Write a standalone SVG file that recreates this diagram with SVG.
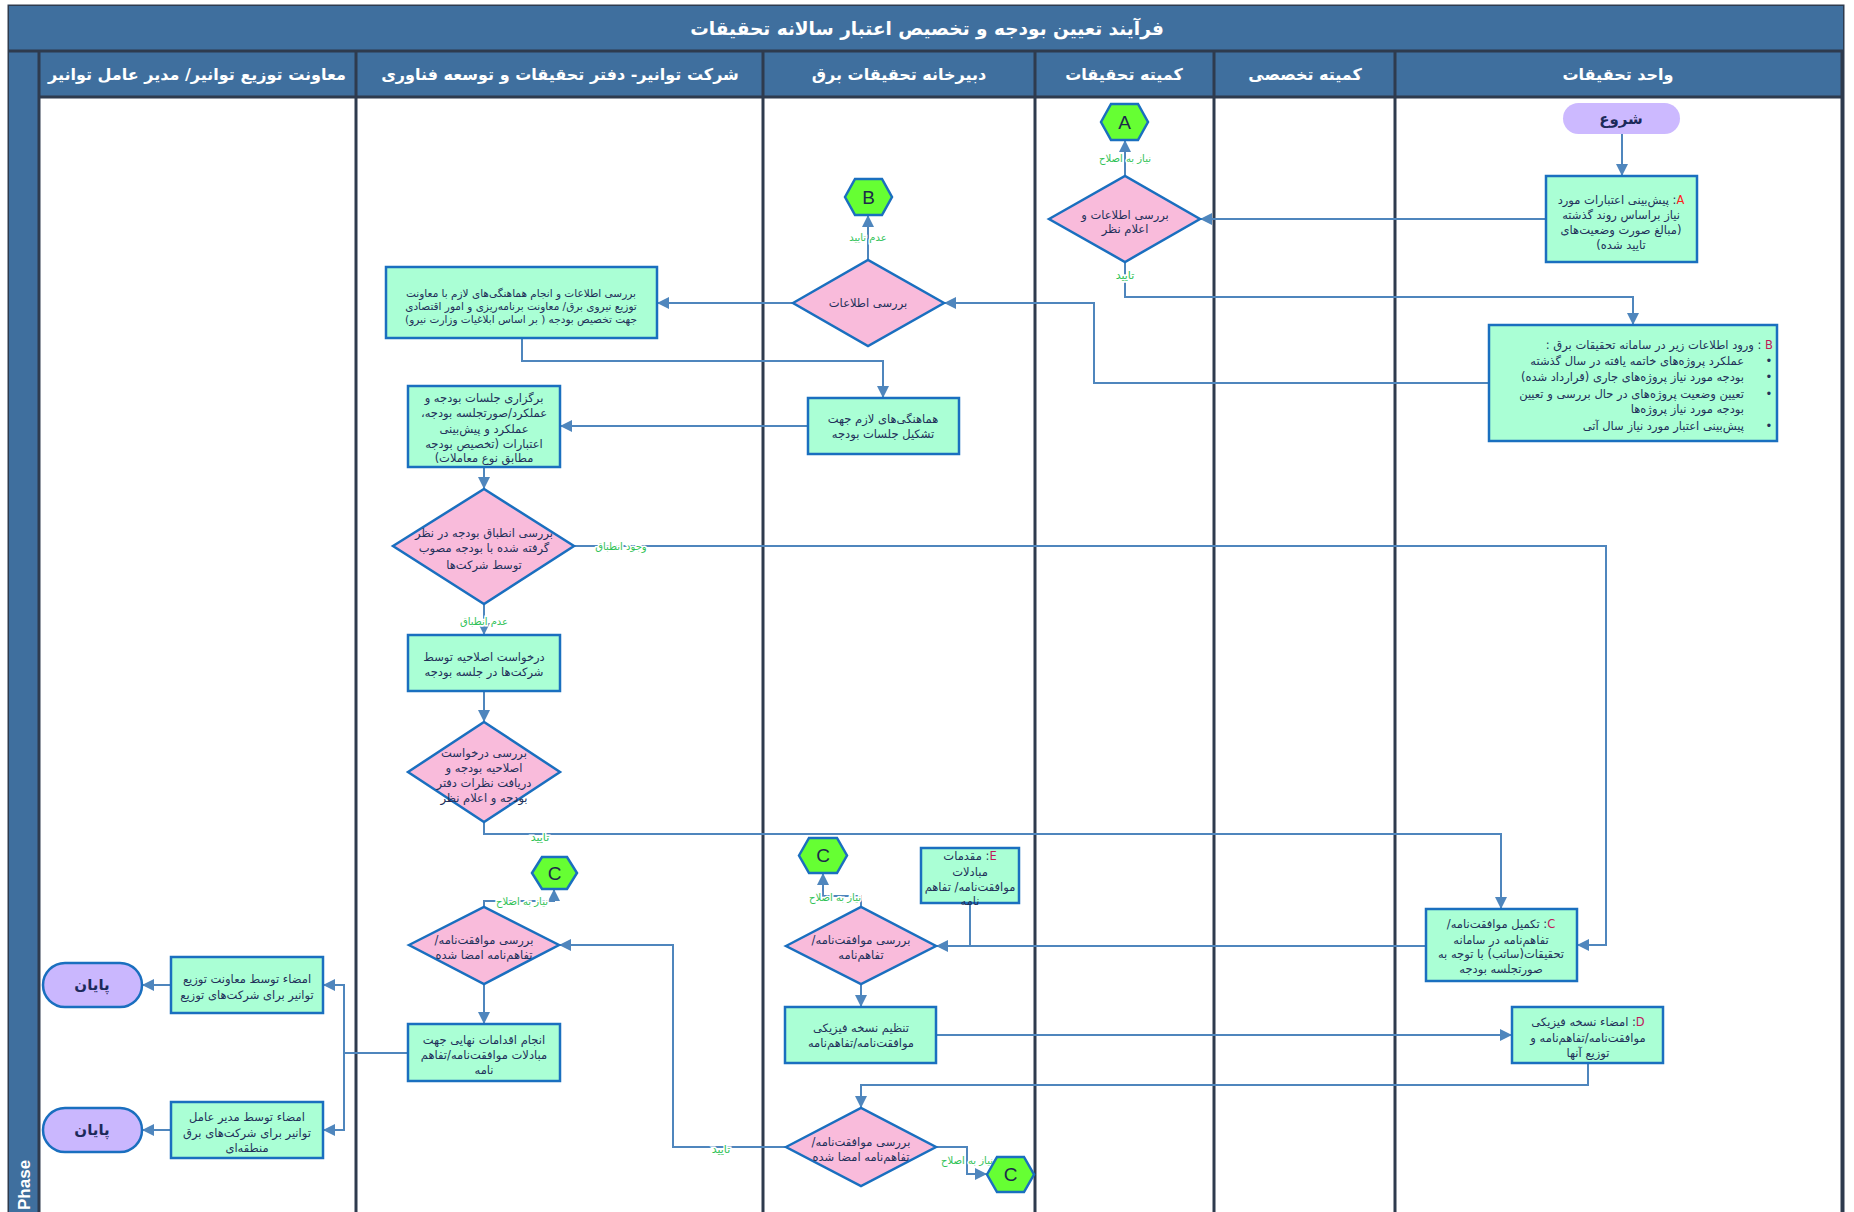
<svg xmlns="http://www.w3.org/2000/svg" width="1854" height="1212" viewBox="0 0 1854 1212">
<defs>
<style>
.hdr{fill:#3f6f9e}
.sep{stroke:#2e3b4e;stroke-width:3;fill:none}
.box{fill:#aaffd5;stroke:#1a6fbf;stroke-width:2.5}
.dec{fill:#f9bbdb;stroke:#1a6fbf;stroke-width:2.5}
.hex{fill:#66ff33;stroke:#1a6fbf;stroke-width:2.5}
.pill{fill:#cab7fe;stroke:#1a6fbf;stroke-width:2.5}
.con{fill:none;stroke:#4f86bd;stroke-width:2}
text{font-family:"DejaVu Sans",sans-serif}
.t{font-size:11.5px;fill:#22305a;direction:rtl;text-anchor:middle}
.ts{font-size:10.5px;fill:#22305a;direction:rtl;text-anchor:middle}
.tr{font-size:11.5px;fill:#22305a;direction:rtl;text-anchor:start}
.h{font-size:16px;font-weight:bold;fill:#fff;direction:rtl;text-anchor:middle}
.lbl{font-size:10px;fill:#2fc256;direction:rtl;text-anchor:middle;paint-order:stroke;stroke:#fff;stroke-width:3px}
.hx{font-family:"Liberation Sans",sans-serif;font-size:19px;fill:#1c2a4a;text-anchor:middle}
.pt{font-size:15px;font-weight:bold;fill:#1c2a5a;direction:rtl;text-anchor:middle}
.k1{fill:#ff2020}
.k2{fill:#c0185a}
</style>
<marker id="ar" viewBox="0 0 10 10" refX="10" refY="5" markerWidth="12" markerHeight="12" markerUnits="userSpaceOnUse" orient="auto"><path d="M0,0 L10,5 L0,10 z" fill="#4f86bd"/></marker>
</defs>

<g id="frame">
<rect x="9" y="6" width="1834" height="1210" fill="#fff" stroke="#2e3b4e" stroke-width="3"/>
<rect class="hdr" x="9" y="6" width="1834" height="45"/>
<rect class="hdr" x="9" y="51" width="1834" height="46"/>
<rect class="hdr" x="9" y="51" width="30" height="1165"/>
<line class="sep" x1="9" y1="51" x2="1843" y2="51"/>
<line class="sep" x1="39" y1="97" x2="1843" y2="97"/>
<line class="sep" x1="39" y1="51" x2="39" y2="1212"/>
<line class="sep" x1="356" y1="51" x2="356" y2="1212"/>
<line class="sep" x1="763" y1="51" x2="763" y2="1212"/>
<line class="sep" x1="1035" y1="51" x2="1035" y2="1212"/>
<line class="sep" x1="1214" y1="51" x2="1214" y2="1212"/>
<line class="sep" x1="1395" y1="51" x2="1395" y2="1212"/>
<line class="sep" x1="1842" y1="51" x2="1842" y2="1212"/>
<text class="h" x="927" y="35" style="font-size:18.5px">فرآیند تعیین بودجه و تخصیص اعتبار سالانه تحقیقات</text>
<text class="h" x="197" y="80">معاونت توزیع توانیر/ مدیر عامل توانیر</text>
<text class="h" x="560" y="80">شرکت توانیر- دفتر تحقیقات و توسعه فناوری</text>
<text class="h" x="899" y="80">دبیرخانه تحقیقات برق</text>
<text class="h" x="1124" y="80">کمیته تحقیقات</text>
<text class="h" x="1305" y="80">کمیته تخصصی</text>
<text class="h" x="1618" y="80">واحد تحقیقات</text>
<text transform="translate(30,1210) rotate(-90)" style="font-family:'Liberation Sans',sans-serif;font-size:17px;font-weight:bold;fill:#fff">Phase</text>
</g>

<g id="connectors">
<path class="con" d="M1622,134 V176" marker-end="url(#ar)"/>
<path class="con" d="M1546,219 H1200" marker-end="url(#ar)"/>
<path class="con" d="M1125,176 V140" marker-end="url(#ar)"/>
<path class="con" d="M1125,262 V297 H1633 V325" marker-end="url(#ar)"/>
<path class="con" d="M1489,383 H1094 V303 H944" marker-end="url(#ar)"/>
<path class="con" d="M868,260 V215" marker-end="url(#ar)"/>
<path class="con" d="M793,303 H657" marker-end="url(#ar)"/>
<path class="con" d="M522,338 V361 H883 V398" marker-end="url(#ar)"/>
<path class="con" d="M808,426 H560" marker-end="url(#ar)"/>
<path class="con" d="M484,467 V489" marker-end="url(#ar)"/>
<path class="con" d="M574,546 H1606 V945 H1577" marker-end="url(#ar)"/>
<path class="con" d="M484,604 V635" marker-end="url(#ar)"/>
<path class="con" d="M484,691 V722" marker-end="url(#ar)"/>
<path class="con" d="M484,822 V834 H1501 V909" marker-end="url(#ar)"/>
<path class="con" d="M1426,946 H936" marker-end="url(#ar)"/>
<path class="con" d="M970,903 V946"/>
<path class="con" d="M861,907 V896 H823 V873" marker-end="url(#ar)"/>
<path class="con" d="M861,984 V1007" marker-end="url(#ar)"/>
<path class="con" d="M936,1035 H1512" marker-end="url(#ar)"/>
<path class="con" d="M1588,1063 V1085 H861 V1108" marker-end="url(#ar)"/>
<path class="con" d="M936,1147 H967 V1174 H987" marker-end="url(#ar)"/>
<path class="con" d="M786,1147 H673 V945 H559" marker-end="url(#ar)"/>
<path class="con" d="M484,907 V901 H554 V889" marker-end="url(#ar)"/>
<path class="con" d="M484,984 V1024" marker-end="url(#ar)"/>
<path class="con" d="M408,1053 H344 V985 H323" marker-end="url(#ar)"/>
<path class="con" d="M344,1053 V1130 H323" marker-end="url(#ar)"/>
<path class="con" d="M171,985 H142" marker-end="url(#ar)"/>
<path class="con" d="M171,1130 H142" marker-end="url(#ar)"/>
<text class="lbl" x="1125" y="162">نیاز به اصلاح</text>
<text class="lbl" x="1125" y="279" style="font-size:11px">تایید</text>
<text class="lbl" x="868" y="241">عدم تایید</text>
<text class="lbl" x="621" y="550">وجود انطباق</text>
<text class="lbl" x="484" y="625">عدم انطباق</text>
<text class="lbl" x="540" y="841" style="font-size:11px">تایید</text>
<text class="lbl" x="522" y="905">نیاز به اصلاح</text>
<text class="lbl" x="835" y="901">نیاز به اصلاح</text>
<text class="lbl" x="967" y="1164">نیاز به اصلاح</text>
<text class="lbl" x="721" y="1153" style="font-size:11px">تایید</text>
</g>

<g id="start">
<rect class="pill" x="1563" y="103" width="117" height="31" rx="15.5" style="stroke:none;fill:#ccb9ff"/>
<text class="pt" x="1621" y="124">شروع</text>
</g>

<g id="boxA">
<rect class="box" x="1546" y="176" width="151" height="86"/>
<text class="t" x="1621" y="204"><tspan class="k1">A</tspan>: پیش‌بینی اعتبارات مورد</text>
<text class="t" x="1621" y="219">نیاز براساس روند گذشته</text>
<text class="t" x="1621" y="234">(مبالغ صورت وضعیت‌های</text>
<text class="t" x="1621" y="249">تایید شده)</text>
</g>

<g id="boxB">
<rect class="box" x="1489" y="325" width="288" height="116"/>
<text class="tr" x="1773" y="349"><tspan class="k2">B</tspan> : ورود اطلاعات زیر در سامانه تحقیقات برق :</text>
<text class="tr" x="1744" y="365">عملکرد پروژه‌های خاتمه یافته در سال گذشته</text>
<text class="tr" x="1744" y="381">بودجه مورد نیاز پروژه‌های جاری (قرارداد شده)</text>
<text class="tr" x="1744" y="398">تعیین وضعیت پروژه‌های در حال بررسی و تعیین</text>
<text class="tr" x="1744" y="413">بودجه مورد نیاز پروژه‌ها</text>
<text class="tr" x="1744" y="430">پیش‌بینی اعتبار مورد نیاز سال آتی</text>
<text class="t" x="1769" y="365">•</text>
<text class="t" x="1769" y="381">•</text>
<text class="t" x="1769" y="398">•</text>
<text class="t" x="1769" y="430">•</text>
</g>

<g id="hexA">
<polygon class="hex" points="1101,122 1111,104 1138,104 1148,122 1138,140 1111,140"/>
<text class="hx" x="1124.5" y="129">A</text>
</g>

<g id="dec1">
<polygon class="dec" points="1049,219 1125,176 1200,219 1125,262"/>
<text class="t" x="1125" y="219">بررسی  اطلاعات و</text>
<text class="t" x="1125" y="233">اعلام نظر</text>
</g>

<g id="hexB">
<polygon class="hex" points="845,197 855,179 882,179 892,197 882,215 855,215"/>
<text class="hx" x="868.5" y="204">B</text>
</g>

<g id="dec2">
<polygon class="dec" points="793,303 868,260 944,303 868,346"/>
<text class="t" x="868" y="307">بررسی اطلاعات</text>
</g>

<g id="box1">
<rect class="box" x="386" y="267" width="271" height="71"/>
<text class="ts" x="521" y="297">بررسی اطلاعات و انجام هماهنگی‌های لازم با معاونت</text>
<text class="ts" x="521" y="310">توزیع نیروی برق/ معاونت برنامه‌ریزی و امور اقتصادی</text>
<text class="ts" x="521" y="323">جهت تخصیص بودجه ( بر اساس ابلاغیات وزارت نیرو)</text>
</g>

<g id="boxHamahangi">
<rect class="box" x="808" y="398" width="151" height="56"/>
<text class="t" x="883" y="423">هماهنگی‌های لازم جهت</text>
<text class="t" x="883" y="438">تشکیل جلسات بودجه</text>
</g>

<g id="boxBargozari">
<rect class="box" x="408" y="386" width="152" height="81"/>
<text class="t" x="484" y="402">برگزاری جلسات بودجه و</text>
<text class="t" x="484" y="417">عملکرد/صورتجلسه بودجه،</text>
<text class="t" x="484" y="433">عملکرد و پیش‌بینی</text>
<text class="t" x="484" y="448">اعتبارات  (تخصیص بودجه</text>
<text class="t" x="484" y="462">مطابق نوع معاملات)</text>
</g>

<g id="dec3">
<polygon class="dec" points="393,546 484,489 574,546 484,604"/>
<text class="t" x="484" y="537">بررسی انطباق بودجه در نظر</text>
<text class="t" x="484" y="552">گرفته شده  با بودجه مصوب</text>
<text class="t" x="484" y="569">توسط شرکت‌ها</text>
</g>

<g id="boxDarkhast">
<rect class="box" x="408" y="635" width="152" height="56"/>
<text class="t" x="484" y="661">درخواست اصلاحیه توسط</text>
<text class="t" x="484" y="676">شرکت‌ها در جلسه بودجه</text>
</g>

<g id="dec4">
<polygon class="dec" points="408,772 484,722 560,772 484,822"/>
<text class="t" x="484" y="757">بررسی  درخواست</text>
<text class="t" x="484" y="772">اصلاحیه بودجه و</text>
<text class="t" x="484" y="787">دریافت نظرات دفتر</text>
<text class="t" x="484" y="802">بودجه و اعلام نظر</text>
</g>

<g id="boxC">
<rect class="box" x="1426" y="909" width="151" height="72"/>
<text class="t" x="1501" y="928"><tspan class="k2">C</tspan>: تکمیل موافقت‌نامه/</text>
<text class="t" x="1501" y="944">تفاهم‌نامه در سامانه</text>
<text class="t" x="1501" y="958">تحقیقات(ساتب) با توجه به</text>
<text class="t" x="1501" y="973">صورتجلسه بودجه</text>
</g>

<g id="boxE">
<rect class="box" x="921" y="848" width="98" height="55"/>
<text class="t" x="970" y="860"><tspan class="k2">E</tspan>: مقدمات</text>
<text class="t" x="970" y="876">مبادلات</text>
<text class="t" x="970" y="891">موافقت‌نامه/ تفاهم</text>
<text class="t" x="970" y="905">نامه</text>
</g>

<g id="hexC2">
<polygon class="hex" points="799,855.5 809,838 837,838 847,855.5 837,873 809,873"/>
<text class="hx" x="823" y="862">C</text>
</g>

<g id="dec6">
<polygon class="dec" points="786,946 861,907 936,946 861,984"/>
<text class="t" x="861" y="944">بررسی  موافقت‌نامه/</text>
<text class="t" x="861" y="959">تفاهم‌نامه</text>
</g>

<g id="boxTanzim">
<rect class="box" x="785" y="1007" width="151" height="56"/>
<text class="t" x="861" y="1032">تنظیم نسخه فیزیکی</text>
<text class="t" x="861" y="1047">موافقت‌نامه/تفاهم‌نامه</text>
</g>

<g id="boxD">
<rect class="box" x="1512" y="1007" width="151" height="56"/>
<text class="t" x="1588" y="1026"><tspan class="k2">D</tspan>: امضاء نسخه فیزیکی</text>
<text class="t" x="1588" y="1042">موافقت‌نامه/تفاهم‌نامه و</text>
<text class="t" x="1588" y="1057">توزیع آنها</text>
</g>

<g id="dec7">
<polygon class="dec" points="786,1147 861,1108 936,1147 861,1186"/>
<text class="t" x="861" y="1146">بررسی  موافقت‌نامه/</text>
<text class="t" x="861" y="1161">تفاهم‌نامه امضا شده</text>
</g>

<g id="hexC3">
<polygon class="hex" points="987,1174.5 997,1157 1024,1157 1034,1174.5 1024,1192 997,1192"/>
<text class="hx" x="1010.5" y="1181">C</text>
</g>

<g id="hexC1">
<polygon class="hex" points="532,873 542,857 567,857 577,873 567,889 542,889"/>
<text class="hx" x="554.5" y="880">C</text>
</g>

<g id="dec5">
<polygon class="dec" points="409,945 484,907 559,945 484,984"/>
<text class="t" x="484" y="944">بررسی موافقت‌نامه/</text>
<text class="t" x="484" y="959">تفاهم‌نامه امضا شده</text>
</g>

<g id="boxAnjam">
<rect class="box" x="408" y="1024" width="152" height="57"/>
<text class="t" x="484" y="1044">انجام اقدامات نهایی جهت</text>
<text class="t" x="484" y="1059">مبادلات موافقت‌نامه/تفاهم</text>
<text class="t" x="484" y="1074">نامه</text>
</g>

<g id="boxL1a">
<rect class="box" x="171" y="957" width="152" height="56"/>
<text class="t" x="247" y="983">امضاء توسط معاونت توزیع</text>
<text class="t" x="247" y="999">توانیر برای شرکت‌های توزیع</text>
</g>

<g id="boxL1b">
<rect class="box" x="171" y="1102" width="152" height="56"/>
<text class="t" x="247" y="1121">امضاء توسط مدیر عامل</text>
<text class="t" x="247" y="1137">توانیر برای شرکت‌های برق</text>
<text class="t" x="247" y="1152">منطقه‌ای</text>
</g>

<g id="end1">
<rect class="pill" x="43" y="963" width="99" height="44" rx="22"/>
<text class="pt" x="92" y="990">پایان</text>
</g>

<g id="end2">
<rect class="pill" x="43" y="1108" width="99" height="44" rx="22"/>
<text class="pt" x="92" y="1135">پایان</text>
</g>
</svg>
